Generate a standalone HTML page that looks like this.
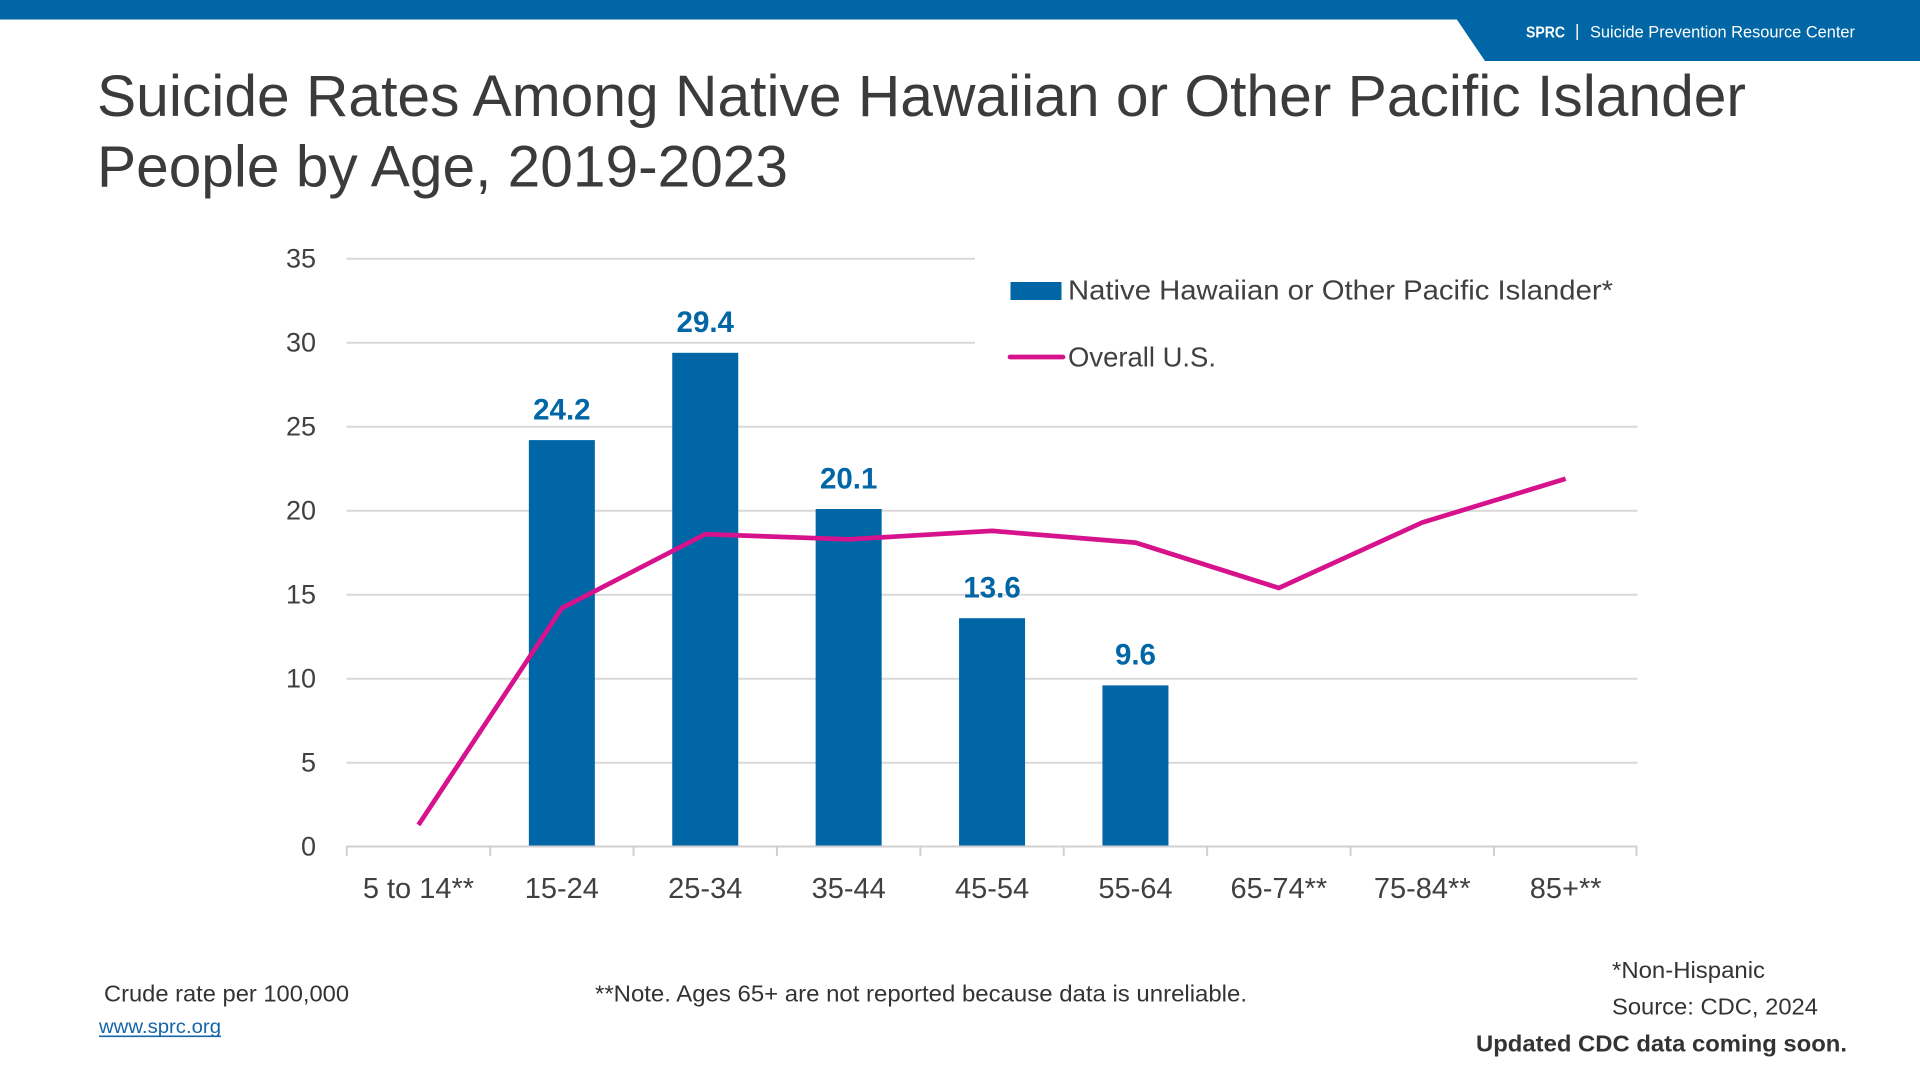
<!DOCTYPE html>
<html>
<head>
<meta charset="utf-8">
<style>
  html, body { margin: 0; padding: 0; background: #ffffff; }
  svg { display: block; }
  text { font-family: "Liberation Sans", Arial, sans-serif; }
</style>
</head>
<body>
<svg width="1920" height="1080" viewBox="0 0 1920 1080" xmlns="http://www.w3.org/2000/svg">
  <rect x="0" y="0" width="1920" height="1080" fill="#ffffff"/>

  <!-- Header bar -->
  <rect x="0" y="0" width="1920" height="19.5" fill="#0066a6"/>
  <polygon points="1456.5,19 1920,19 1920,61 1485,61" fill="#0066a6"/>
  <text x="1526" y="37.7" font-size="16" font-weight="bold" fill="#ffffff" textLength="39" lengthAdjust="spacingAndGlyphs">SPRC</text>
  <rect x="1576.5" y="24" width="1.4" height="16" fill="#ffffff"/>
  <text x="1590" y="37.7" font-size="16.5" fill="#ffffff" textLength="265" lengthAdjust="spacingAndGlyphs">Suicide Prevention Resource Center</text>

  <!-- Title -->
  <text x="97" y="116" font-size="58.5" fill="#3b3b3b" textLength="1649" lengthAdjust="spacingAndGlyphs">Suicide Rates Among Native Hawaiian or Other Pacific Islander</text>
  <text x="97" y="186.5" font-size="58.5" fill="#3b3b3b" textLength="691" lengthAdjust="spacingAndGlyphs">People by Age, 2019-2023</text>

  <!-- Gridlines -->
  <g stroke="#d9d9d9" stroke-width="2">
    <line x1="346.75" y1="258.7" x2="975" y2="258.7"/>
    <line x1="346.75" y1="342.7" x2="975" y2="342.7"/>
    <line x1="346.75" y1="426.7" x2="1637.5" y2="426.7"/>
    <line x1="346.75" y1="510.7" x2="1637.5" y2="510.7"/>
    <line x1="346.75" y1="594.7" x2="1637.5" y2="594.7"/>
    <line x1="346.75" y1="678.7" x2="1637.5" y2="678.7"/>
    <line x1="346.75" y1="762.7" x2="1637.5" y2="762.7"/>
  </g>

  <!-- Y axis labels -->
  <g font-size="27" fill="#404040" text-anchor="end">
    <text x="316" y="267.7">35</text>
    <text x="316" y="351.7">30</text>
    <text x="316" y="435.7">25</text>
    <text x="316" y="519.7">20</text>
    <text x="316" y="603.7">15</text>
    <text x="316" y="687.7">10</text>
    <text x="316" y="771.7">5</text>
    <text x="316" y="855.7">0</text>
  </g>

  <!-- Bars -->
  <g fill="#0066a6">
    <rect x="528.85" y="440.1" width="66" height="406.1"/>
    <rect x="672.25" y="352.8" width="66" height="493.4"/>
    <rect x="815.65" y="509.0" width="66" height="337.2"/>
    <rect x="959.05" y="618.2" width="66" height="228.0"/>
    <rect x="1102.45" y="685.4" width="66" height="160.8"/>
  </g>

  <!-- Axis line and ticks -->
  <g stroke="#d0d0d0" stroke-width="2">
    <line x1="346.75" y1="846.5" x2="1637.5" y2="846.5"/>
    <line x1="346.75" y1="846" x2="346.75" y2="856"/>
    <line x1="490.15" y1="846" x2="490.15" y2="856"/>
    <line x1="633.55" y1="846" x2="633.55" y2="856"/>
    <line x1="776.95" y1="846" x2="776.95" y2="856"/>
    <line x1="920.35" y1="846" x2="920.35" y2="856"/>
    <line x1="1063.75" y1="846" x2="1063.75" y2="856"/>
    <line x1="1207.15" y1="846" x2="1207.15" y2="856"/>
    <line x1="1350.55" y1="846" x2="1350.55" y2="856"/>
    <line x1="1493.95" y1="846" x2="1493.95" y2="856"/>
    <line x1="1636.5" y1="846" x2="1636.5" y2="856"/>
  </g>

  <!-- Data labels -->
  <g font-size="29.5" font-weight="bold" fill="#0066a6" text-anchor="middle">
    <text x="561.85" y="419.4">24.2</text>
    <text x="705.25" y="332.1">29.4</text>
    <text x="848.65" y="488.3">20.1</text>
    <text x="992.05" y="597.5">13.6</text>
    <text x="1135.45" y="664.7">9.6</text>
  </g>

  <!-- Overall U.S. line -->
  <polyline fill="none" stroke="#d6138c" stroke-width="4.7" stroke-linejoin="round" stroke-linecap="butt"
    points="418.45,824.9 561.85,608.1 705.25,534.2 848.65,539.3 992.05,530.9 1135.45,542.6 1278.85,588.0 1422.25,522.5 1565.65,478.8"/>

  <!-- X axis labels -->
  <g font-size="29" fill="#404040" text-anchor="middle">
    <text x="418.45" y="898">5 to 14**</text>
    <text x="561.85" y="898">15-24</text>
    <text x="705.25" y="898">25-34</text>
    <text x="848.65" y="898">35-44</text>
    <text x="992.05" y="898">45-54</text>
    <text x="1135.45" y="898">55-64</text>
    <text x="1278.85" y="898">65-74**</text>
    <text x="1422.25" y="898">75-84**</text>
    <text x="1565.65" y="898">85+**</text>
  </g>

  <!-- Legend -->
  <rect x="1010.5" y="282" width="51" height="18" fill="#0066a6"/>
  <text x="1068" y="299.3" font-size="28" fill="#404040" textLength="545" lengthAdjust="spacingAndGlyphs">Native Hawaiian or Other Pacific Islander*</text>
  <line x1="1010" y1="357" x2="1063" y2="357" stroke="#d6138c" stroke-width="4.7" stroke-linecap="round"/>
  <text x="1068" y="366.5" font-size="28" fill="#404040" textLength="148" lengthAdjust="spacingAndGlyphs">Overall U.S.</text>

  <!-- Footer -->
  <text x="104" y="1001.7" font-size="23.5" fill="#333333" textLength="245" lengthAdjust="spacingAndGlyphs">Crude rate per 100,000</text>
  <text x="99" y="1033" font-size="19" fill="#1565a8" textLength="122" lengthAdjust="spacingAndGlyphs">www.sprc.org</text>
  <rect x="99" y="1035.5" width="122" height="1.6" fill="#1565a8"/>
  <text x="595" y="1001.7" font-size="23.5" fill="#333333" textLength="652" lengthAdjust="spacingAndGlyphs">**Note. Ages 65+ are not reported because data is unreliable.</text>
  <text x="1612" y="978" font-size="23.5" fill="#333333" textLength="153" lengthAdjust="spacingAndGlyphs">*Non-Hispanic</text>
  <text x="1612" y="1014.6" font-size="23.5" fill="#333333" textLength="206" lengthAdjust="spacingAndGlyphs">Source: CDC, 2024</text>
  <text x="1476" y="1051.4" font-size="23.5" font-weight="bold" fill="#333333" textLength="371" lengthAdjust="spacingAndGlyphs">Updated CDC data coming soon.</text>
</svg>
</body>
</html>
